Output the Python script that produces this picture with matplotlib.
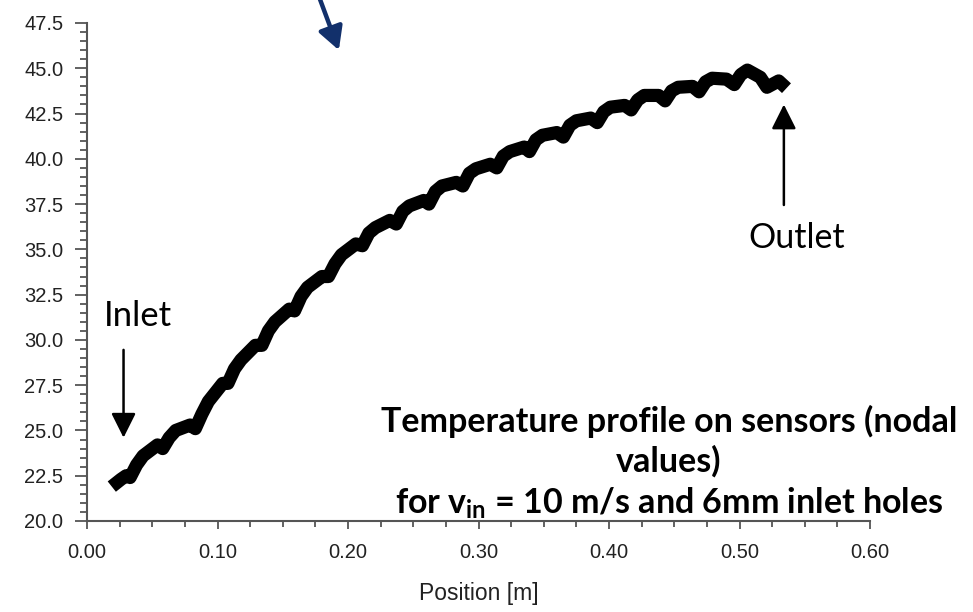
import matplotlib
matplotlib.use("Agg")
import matplotlib.pyplot as plt
from matplotlib.ticker import MultipleLocator, FormatStrFormatter

# sensor temperature profile (position m, temperature degC)
position = [0.019, 0.026, 0.030,
            0.033, 0.038, 0.043, 0.054,
            0.058, 0.063, 0.068, 0.079,
            0.083, 0.088, 0.093, 0.104,
            0.108, 0.113, 0.118, 0.129,
            0.134, 0.139, 0.144, 0.155,
            0.159, 0.164, 0.169, 0.180,
            0.185, 0.190, 0.195, 0.206,
            0.211, 0.216, 0.221, 0.232,
            0.237, 0.242, 0.247, 0.258,
            0.262, 0.267, 0.272, 0.283,
            0.288, 0.293, 0.298, 0.309,
            0.314, 0.319, 0.324, 0.335,
            0.339, 0.344, 0.349, 0.360,
            0.365, 0.370, 0.375, 0.386,
            0.391, 0.396, 0.401, 0.412,
            0.417, 0.422, 0.427, 0.438,
            0.443, 0.448, 0.453, 0.464,
            0.469, 0.474, 0.479, 0.490,
            0.496, 0.501, 0.506, 0.516,
            0.521, 0.530, 0.536]
temperature = [21.9, 22.3, 22.5,
               22.4, 23.1, 23.6, 24.2,
               24.0, 24.6, 25.0, 25.3,
               25.1, 25.9, 26.6, 27.6,
               27.6, 28.4, 28.9, 29.7,
               29.7, 30.5, 31.0, 31.7,
               31.6, 32.4, 32.9, 33.5,
               33.5, 34.2, 34.7, 35.3,
               35.2, 35.9, 36.2, 36.6,
               36.4, 37.1, 37.4, 37.7,
               37.5, 38.2, 38.5, 38.7,
               38.5, 39.2, 39.45, 39.7,
               39.5, 40.15, 40.4, 40.65,
               40.4, 41.05, 41.3, 41.45,
               41.2, 41.85, 42.1, 42.25,
               42.0, 42.6, 42.85, 42.95,
               42.7, 43.25, 43.5, 43.5,
               43.2, 43.75, 43.95, 44.0,
               43.7, 44.25, 44.45, 44.4,
               44.1, 44.65, 44.9, 44.5,
               43.95, 44.3, 43.9]

plt.rcParams["mathtext.fontset"] = "custom"
plt.rcParams["mathtext.rm"] = "Lato"
plt.rcParams["mathtext.bf"] = "Lato:bold"

fig = plt.figure(figsize=(9.73, 6.12), dpi=100)
ax = fig.add_axes([87 / 973, 1 - 521 / 612, (870 - 87) / 973, (521 - 23) / 612])

ax.plot(position, temperature, color="black", lw=9.5,
        solid_capstyle="butt", solid_joinstyle="round")

ax.set_xlim(0, 0.6)
ax.set_ylim(20, 47.5)
ax.xaxis.set_major_locator(MultipleLocator(0.1))
ax.xaxis.set_minor_locator(MultipleLocator(0.025))
ax.yaxis.set_major_locator(MultipleLocator(2.5))
ax.yaxis.set_minor_locator(MultipleLocator(0.5))
ax.xaxis.set_major_formatter(FormatStrFormatter("%.2f"))
ax.yaxis.set_major_formatter(FormatStrFormatter("%.1f"))

for side in ["top", "right"]:
    ax.spines[side].set_visible(False)
for side in ["left", "bottom"]:
    ax.spines[side].set_color("#555555")
    ax.spines[side].set_linewidth(1.5)

ax.tick_params(axis="both", which="both", colors="#555555", labelcolor="#222222",
               labelsize=14.5, width=1.3)
ax.tick_params(axis="y", which="major", length=9, pad=8)
ax.tick_params(axis="y", which="minor", length=5)
ax.tick_params(axis="x", which="major", length=6, pad=10)
ax.tick_params(axis="x", which="minor", length=4)
for lbl in ax.get_xticklabels() + ax.get_yticklabels():
    lbl.set_fontfamily("Liberation Sans")

ax.set_xlabel("Position [m]", fontsize=16.5, family="Liberation Sans",
              color="#222222", labelpad=14)

# annotations
ax.text(0.039, 31.3, "Inlet", fontsize=25, family="Lato", ha="center", va="center")
ax.annotate("", xy=(0.028, 24.6), xytext=(0.028, 29.45),
            arrowprops=dict(arrowstyle="-|>,head_length=0.6,head_width=0.3",
                            color="black", lw=1.8, mutation_scale=25,
                            shrinkA=0, shrinkB=0))
ax.text(0.544, 35.6, "Outlet", fontsize=24.5, family="Lato", ha="center", va="center")
ax.annotate("", xy=(0.534, 43.0), xytext=(0.534, 37.45),
            arrowprops=dict(arrowstyle="-|>,head_length=0.6,head_width=0.3",
                            color="black", lw=1.8, mutation_scale=25,
                            shrinkA=0, shrinkB=0))
ax.annotate("", xy=(0.193, 46.0), xytext=(0.176, 49.3),
            arrowprops=dict(arrowstyle="-|>,head_length=0.55,head_width=0.3",
                            color="#12306b", lw=3.2, mutation_scale=25,
                            shrinkA=0, shrinkB=0),
            annotation_clip=False)

ax.text(0.446, 23.2,
        "Temperature profile on sensors (nodal\nvalues)\nfor v$_{\\mathbf{in}}$ = 10 m/s and 6mm inlet holes",
        fontsize=24.5, family="Lato", weight="bold", ha="center", va="center",
        linespacing=1.27)

fig.savefig("out.png", dpi=100)
